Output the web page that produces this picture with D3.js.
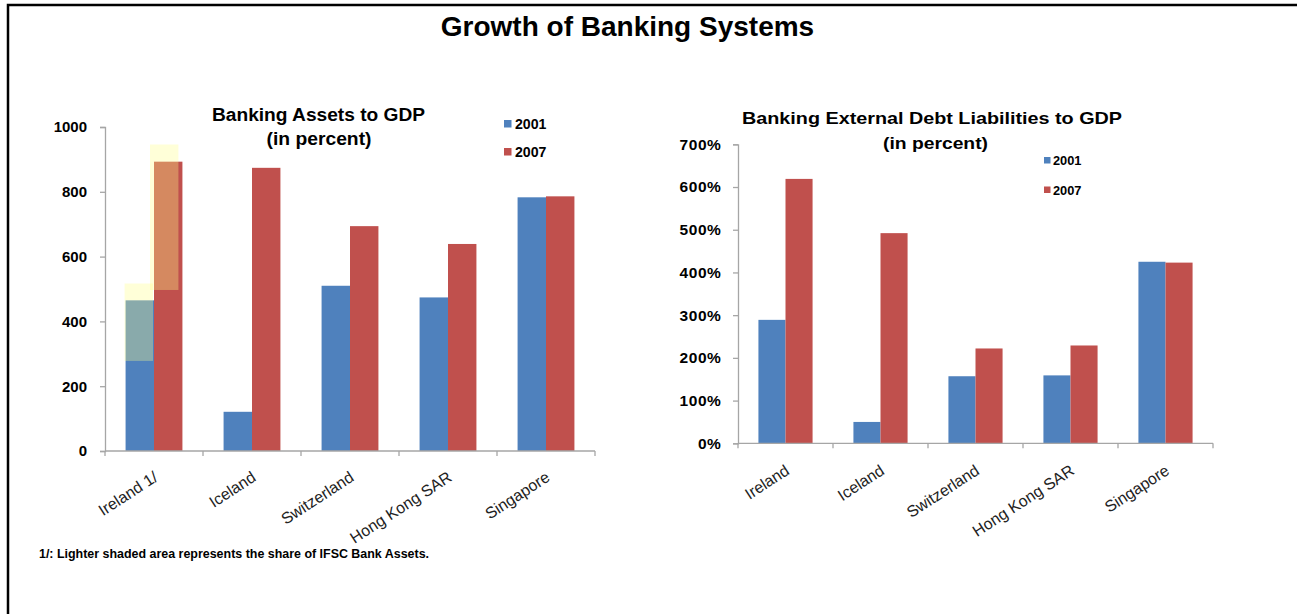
<!DOCTYPE html>
<html>
<head>
<meta charset="utf-8">
<script src="https://cdn.jsdelivr.net/npm/d3@7"></script>
<style>
  html, body { margin: 0; padding: 0; background: #fff; }
  svg { display: block; font-family: "Liberation Sans", Arial, sans-serif; }
</style>
</head>
<body>
<svg id="chart" width="1297" height="614"></svg>
<script>
// ---------- data ----------
const mainTitle = "Growth of Banking Systems";
const seriesNames = ["2001", "2007"];

const assetsCategories = ["Ireland  1/", "Iceland", "Switzerland", "Hong Kong SAR", "Singapore"];
const assets2001 = [465, 121, 510, 474, 783];
const assets2007 = [893, 874, 694, 639, 786];
// Ireland: lighter shaded IFSC share (low, high) for 2001 and 2007
const irelandShadeLow = [278, 497];
const irelandShadeHigh = [517, 946];
const assetsTicks = [0, 200, 400, 600, 800, 1000];

const debtCategories = ["Ireland", "Iceland", "Switzerland", "Hong Kong SAR", "Singapore"];
const debt2001 = [289, 50, 157, 159, 425];
const debt2007 = [619, 492, 222, 229, 423];
const debtTicks = [0, 100, 200, 300, 400, 500, 600, 700];

const footnote = "1/:  Lighter shaded area represents the share of IFSC Bank Assets.";

// ---------- styles ----------
const colors = ["#4f81bd", "#c0504d"];
const axisColor = "#a6a6a6";

const svg = d3.select("#chart");

// frame
svg.append("path")
  .attr("d", "M8,614 L8,5 L1297,5")
  .attr("fill", "none").attr("stroke", "#000").attr("stroke-width", 2.5);

svg.append("text")
  .attr("x", 627.5).attr("y", 36)
  .attr("text-anchor", "middle")
  .attr("font-size", 28).attr("font-weight", "bold")
  .text(mainTitle);

function drawChart(opts) {
  const { cats, s1, s2, ticks, fmt, xr, yr, yMax, pin, title, titleW, titleX, titleY, subW, subY,
          tickFont, tickPad, legend, labelCfg } = opts;
  const g = svg.append("g");
  const x0 = d3.scaleBand().domain(cats).range(xr).paddingInner(pin).paddingOuter(pin / 2);
  const x1 = d3.scaleBand().domain(seriesNames).range([0, x0.bandwidth()]);
  const y = d3.scaleLinear().domain([0, yMax]).range(yr);

  // y axis
  const ya = g.append("g").attr("transform", `translate(${xr[0]},0)`)
    .call(d3.axisLeft(y).tickValues(ticks).tickSize(5).tickPadding(tickPad).tickFormat(fmt));
  ya.select(".domain").attr("stroke", axisColor).attr("stroke-width", 1.3);
  ya.selectAll(".tick line").attr("stroke", axisColor).attr("stroke-width", 1.3);
  ya.selectAll(".tick text")
    .attr("font-size", tickFont).attr("font-weight", "bold").attr("fill", "#000")
    .attr("letter-spacing", opts.tickLS || 0)
    .attr("font-family", "'Liberation Sans', Arial, sans-serif");

  // bars
  const rows = cats.map((c, i) => ({ c, vals: [s1[i], s2[i]] }));
  const grp = g.selectAll("g.cat").data(rows).join("g").attr("class", "cat")
    .attr("transform", d => `translate(${x0(d.c)},0)`);
  grp.selectAll("rect").data(d => d.vals.map((v, j) => ({ v, s: seriesNames[j], j })))
    .join("rect")
    .attr("x", d => x1(d.s))
    .attr("width", x1.bandwidth())
    .attr("y", d => y(d.v))
    .attr("height", d => y(0) - y(d.v))
    .attr("fill", d => colors[d.j]);

  // x axis line + ticks
  const xa = g.append("g");
  xa.append("line").attr("x1", xr[0]).attr("x2", xr[1]).attr("y1", y(0)).attr("y2", y(0))
    .attr("stroke", axisColor).attr("stroke-width", 1.3);
  const bounds = d3.range(cats.length + 1).map(i => xr[0] + i * x0.step());
  xa.selectAll("line.tk").data(bounds).join("line").attr("class", "tk")
    .attr("x1", d => d).attr("x2", d => d).attr("y1", y(0)).attr("y2", y(0) + 5)
    .attr("stroke", axisColor).attr("stroke-width", 1.3);

  // x labels
  g.selectAll("text.xl").data(cats).join("text").attr("class", "xl")
    .attr("text-anchor", "end")
    .attr("font-size", 16).attr("fill", "#222")
    .attr("transform", d => `translate(${x0(d) + x0.bandwidth() / 2 + labelCfg.dx},${y(0) + labelCfg.dy}) rotate(-33)`)
    .text(d => d);

  // titles
  g.append("text").attr("x", titleX).attr("y", titleY).attr("text-anchor", "middle")
    .attr("font-size", opts.titleFont).attr("font-weight", "bold")
    .attr("textLength", titleW).attr("lengthAdjust", "spacingAndGlyphs")
    .text(title);
  g.append("text").attr("x", titleX + opts.subDx).attr("y", subY).attr("text-anchor", "middle")
    .attr("font-size", opts.titleFont).attr("font-weight", "bold")
    .attr("textLength", subW).attr("lengthAdjust", "spacingAndGlyphs")
    .text("(in percent)");

  // legend
  seriesNames.forEach((s, i) => {
    g.append("rect").attr("x", legend.x).attr("y", legend.y + i * legend.gap)
      .attr("width", legend.size).attr("height", legend.size).attr("fill", colors[i]);
    g.append("text").attr("x", legend.x + legend.size + legend.pad)
      .attr("y", legend.y + i * legend.gap + legend.base)
      .attr("font-size", legend.font).attr("font-weight", "bold")
      .attr("textLength", legend.w).attr("lengthAdjust", "spacingAndGlyphs")
      .text(s);
  });

  return { g, x0, x1, y };
}

// ---------- left chart ----------
const L = drawChart({
  cats: assetsCategories, s1: assets2001, s2: assets2007, ticks: assetsTicks,
  fmt: d => d, xr: [105, 595], yr: [451, 127], yMax: 1000, pin: 0.42,
  title: "Banking Assets to GDP", titleFont: 17.5, titleW: 213, titleX: 318.5, titleY: 121,
  subW: 105, subY: 145, subDx: 0.5,
  tickFont: 15, tickPad: 13, tickLS: 0,
  legend: { x: 504, y: 120, gap: 28, size: 7.5, pad: 3.5, base: 9.3, font: 14.5, w: 31.5 },
  labelCfg: { dx: 5, dy: 29 }
});

// Ireland IFSC shaded overlay
const irl = assetsCategories[0];
L.g.selectAll("rect.shade").data(seriesNames.map((s, j) => ({ s, j, lo: irelandShadeLow[j], hi: irelandShadeHigh[j] })))
  .join("rect").attr("class", "shade")
  .attr("x", d => L.x0(irl) + L.x1(d.s) - (d.j === 0 ? 1 : 4))
  .attr("width", L.x1.bandwidth())
  .attr("y", d => L.y(d.hi))
  .attr("height", d => L.y(d.lo) - L.y(d.hi))
  .attr("fill", "#ffff88").attr("fill-opacity", 0.33);

// ---------- right chart ----------
drawChart({
  cats: debtCategories, s1: debt2001, s2: debt2007, ticks: debtTicks,
  fmt: d => d + "%", xr: [738, 1213], yr: [443.3, 144.3], yMax: 700, pin: 0.43,
  title: "Banking External  Debt Liabilities to GDP", titleFont: 16.5, titleW: 380, titleX: 932, titleY: 123.5,
  subW: 105, subY: 149, subDx: 3.5,
  tickFont: 15.5, tickPad: 11.5, tickLS: 0.6,
  legend: { x: 1044, y: 157, gap: 29.5, size: 6.5, pad: 2.5, base: 8.3, font: 12, w: 28.5 },
  labelCfg: { dx: 5, dy: 30 }
});

// footnote
svg.append("text").attr("x", 39).attr("y", 558)
  .attr("font-size", 12.5).attr("font-weight", "bold")
  .attr("textLength", 390).attr("lengthAdjust", "spacingAndGlyphs")
  .text(footnote);
</script>
</body>
</html>
